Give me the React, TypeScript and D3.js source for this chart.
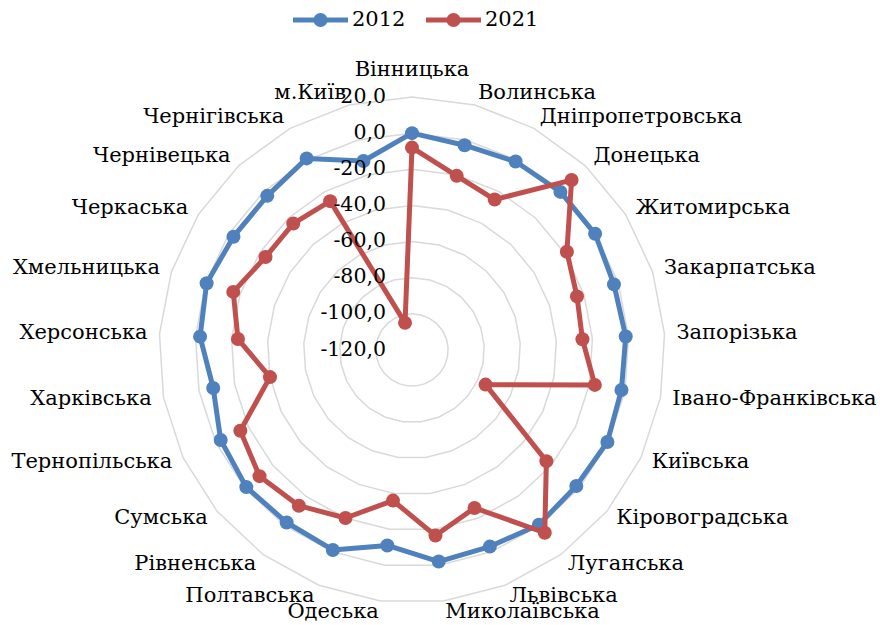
import * as d3 from 'd3';

const categories = [
  'Вінницька', 'Волинська', 'Дніпропетровська', 'Донецька', 'Житомирська',
  'Закарпатська', 'Запорізька', 'Івано-Франківська', 'Київська', 'Кіровоградська',
  'Луганська', 'Львівська', 'Миколаївська', 'Одеська', 'Полтавська',
  'Рівненська', 'Сумська', 'Тернопільська', 'Харківська', 'Херсонська',
  'Хмельницька', 'Черкаська', 'Чернівецька', 'Чернігівська', 'м.Київ',
];

const values2012 = [
  0, -3, -1, 0, 0, -2.5, -1.5, -2, -0.5, -2,
  -0.5, -3, -2, -11, -1, -2, -1, -3, -8, -2.5,
  -0.5, -3, -3, 1, -12,
];

const values2021 = [
  -8, -20.5, -25, 9, -18.5, -24, -25.5, -17, -75, -23.5,
  5, -26, -16.5, -36, -20, -13.5, -10.5, -15, -40, -23.5,
  -16, -24, -24, -26, -104.5,
];

const tickValues = [20, 0, -20, -40, -60, -80, -100, -120];
const seriesNames = ['2012', '2021'];
const seriesColors = ['#4F81BD', '#C0504D'];

const fmt = d3.formatLocale({
  decimal: ',', thousands: ' ', grouping: [3], currency: ['', ''], minus: '-',
}).format('.1f');

export default function App() {
  const width = 880;
  const height = 625;
  const cx = 412;
  const cy = 350;
  const font = '"DejaVu Serif", serif';

  const r = d3.scaleLinear().domain([-120, 20]).range([0, 253]);
  const angle = d3.scaleBand<string>()
    .domain(categories)
    .range([0, 2 * Math.PI])
    .paddingInner(0)
    .paddingOuter(0);

  const ring = d3.lineRadial<string>()
    .angle(c => angle(c)!)
    .curve(d3.curveLinearClosed);

  const seriesLine = d3.lineRadial<[string, number]>()
    .angle(d => angle(d[0])!)
    .radius(d => r(d[1]))
    .curve(d3.curveLinearClosed);

  const series = [values2012, values2021].map(vals =>
    categories.map((c, i) => [c, vals[i]] as [string, number]));

  const pt = (a: number, rad: number) => [rad * Math.sin(a), -rad * Math.cos(a)];
  const labelR = r(20) + 12;

  return (
    <div style={{ position: 'absolute', left: 0, top: 0 }}>
      <svg width={width} height={height} style={{ display: 'block', background: '#fff' }}>
        <g transform={`translate(${cx},${cy})`}>
          {tickValues.filter(t => t > -120).map(t => (
            <path key={t} d={ring.radius(() => r(t))(categories)!}
              fill="none" stroke="#D9D9D9" strokeWidth={1.5} />
          ))}
          {series.map((s, k) => (
            <g key={k}>
              <path d={seriesLine(s)!} fill="none" stroke={seriesColors[k]}
                strokeWidth={5} strokeLinejoin="round" />
              {s.map(d => {
                const [x, y] = pt(angle(d[0])!, r(d[1]));
                return <circle key={d[0]} cx={x} cy={y} r={7} fill={seriesColors[k]} />;
              })}
            </g>
          ))}
          {tickValues.map(t => (
            <text key={t} x={-26} y={-r(t)} textAnchor="end" dominantBaseline="middle"
              fontFamily={font} fontSize={20.5} fill="#000">{fmt(t)}</text>
          ))}
          {categories.map((c, i) => {
            const a = angle(c)!;
            const [x, y] = pt(a, labelR);
            const anchor = i === 0 ? 'middle' : a < Math.PI ? 'start' : 'end';
            return (
              <text key={c} x={x} y={i === 0 ? y - 15 : y} textAnchor={anchor}
                dominantBaseline="middle" fontFamily={font} fontSize={21} fill="#000">{c}</text>
            );
          })}
        </g>
        <g transform="translate(293,20)">
          {seriesNames.map((name, k) => (
            <g key={name} transform={`translate(${k * 133},0)`}>
              <line x1={0} x2={55} y1={0} y2={0} stroke={seriesColors[k]} strokeWidth={5} />
              <circle cx={27.5} cy={0} r={7} fill={seriesColors[k]} />
              <text x={59} y={0} dominantBaseline="middle" fontFamily={font}
                fontSize={21} fill="#000">{name}</text>
            </g>
          ))}
        </g>
      </svg>
    </div>
  );
}
